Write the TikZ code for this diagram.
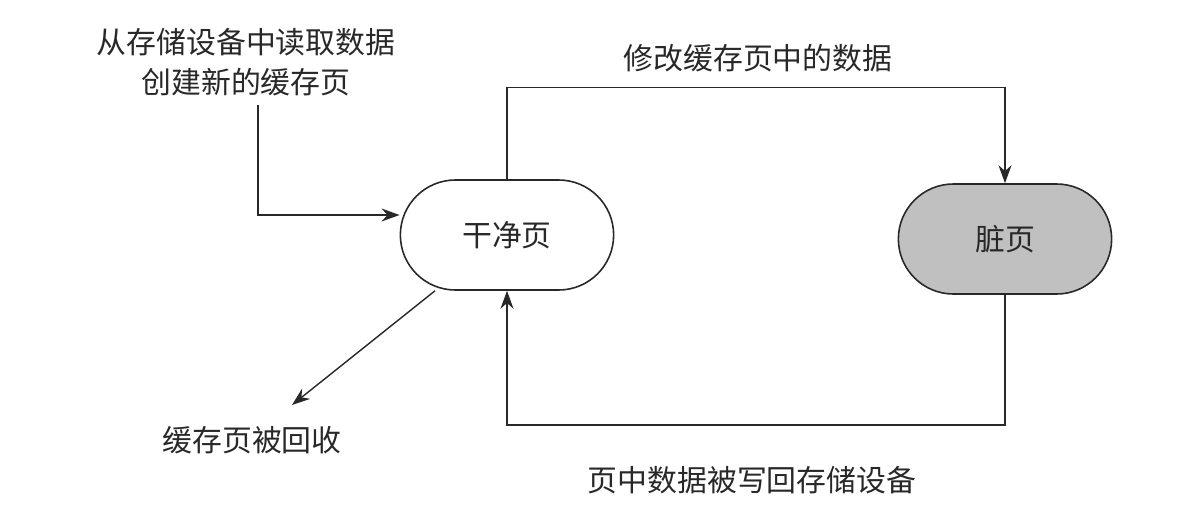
\documentclass[tikz,border=0pt]{standalone}
\usepackage{fontspec}
\setmainfont{Noto Sans CJK SC}
\usetikzlibrary{shapes.misc,arrows.meta,positioning,calc}
\definecolor{ink}{RGB}{40,40,40}
\definecolor{dirtygray}{RGB}{192,192,192}
\tikzset{
    pg/.style={rounded rectangle,draw=ink,line width=0.9pt,minimum width=4.5cm,minimum height=2.2cm,font=\fontsize{17}{20}\selectfont,fill=#1,text=ink},
    parr/.style={-{Stealth[length=3.6mm,width=2.6mm]},line width=0.8pt,ink},
    lbl/.style={font=\fontsize{17}{22.7}\selectfont,text=ink,align=center},
}
\begin{document}
\begin{tikzpicture}
\useasboundingbox (0,0) rectangle (23.7,-10.24);
\node[pg=white] (clean) at (10.14,-4.7) {干净页};
\node[pg=dirtygray] (dirty) at (20.1,-4.78) {脏页};
\node[lbl] (src) at (4.92,-1.24) {从存储设备中读取数据\\创建新的缓存页};
\node[lbl] (modify) at (15.16,-1.16) {修改缓存页中的数据};
\node[lbl] (flush) at (15.04,-9.6) {页中数据被写回存储设备};
\node[lbl] (evict) at (5.04,-8.8) {缓存页被回收};
\coordinate (c1) at (5.16,-2.1);
\coordinate (rec) at (5.84,-8.1);
\draw[parr] (c1) |- ([yshift=4mm]clean.west);
\draw[parr] (clean.north) -- ++(0,1.84) -| (dirty.north);
\draw[parr] (dirty.south) -- ++(0,-2.6) -| (clean.south);
\draw[parr] ([xshift=-1.44cm]clean.south) -- (rec);
\end{tikzpicture}
\end{document}
